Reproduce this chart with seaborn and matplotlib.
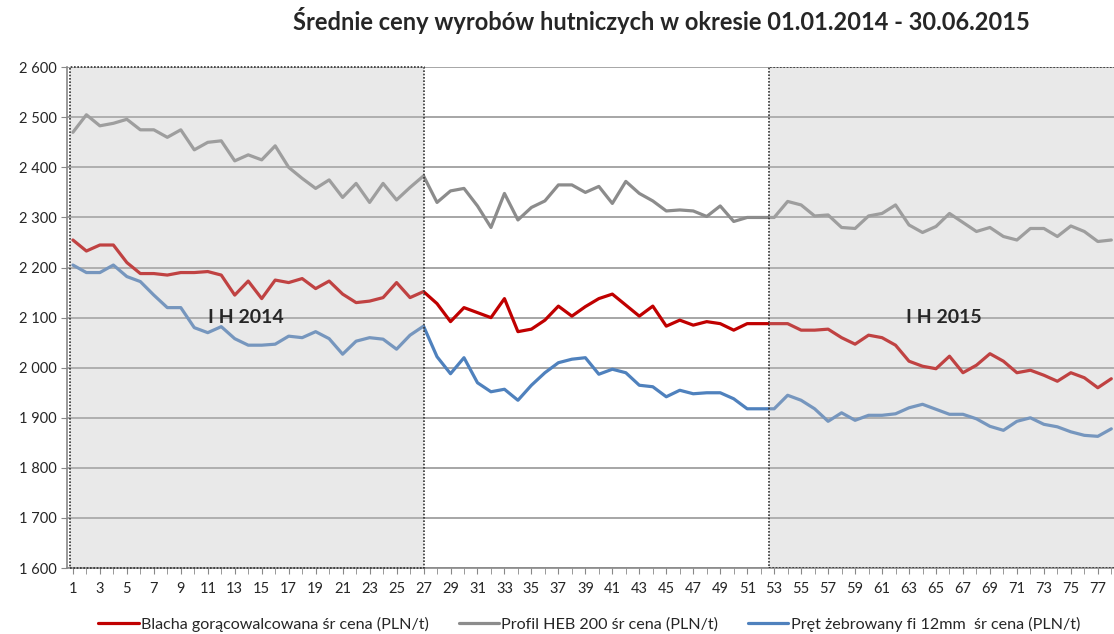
import numpy as np
import pandas as pd
import matplotlib
matplotlib.use("Agg")
import matplotlib.pyplot as plt
import matplotlib.ticker as mticker
import seaborn as sns

# weekly average prices (PLN/t), weeks 1..78
weeks = list(range(1, 79))

blacha = [2255, 2233, 2245, 2245, 2210, 2188, 2188, 2185, 2190, 2190,
          2192, 2185, 2145, 2173, 2138, 2175, 2170, 2178, 2158, 2173,
          2147, 2130, 2133, 2140, 2170, 2140, 2152, 2128, 2092, 2120,
          2110, 2100, 2138, 2072, 2077, 2095, 2123, 2103, 2122, 2138,
          2147, 2125, 2103, 2123, 2083, 2095, 2085, 2092, 2088, 2075,
          2088, 2088, 2088, 2088, 2075, 2075, 2077, 2060, 2047, 2065,
          2060, 2045, 2013, 2003, 1998, 2023, 1990, 2005, 2028, 2013,
          1990, 1995, 1985, 1973, 1990, 1980, 1960, 1978]

profil = [2470, 2505, 2483, 2488, 2496, 2475, 2475, 2460, 2475, 2435,
          2450, 2453, 2413, 2425, 2415, 2443, 2400, 2378, 2358, 2375,
          2340, 2368, 2330, 2368, 2335, 2360, 2383, 2330, 2353, 2358,
          2323, 2280, 2348, 2295, 2320, 2333, 2365, 2365, 2350, 2362,
          2328, 2372, 2348, 2333, 2313, 2315, 2313, 2302, 2323, 2292,
          2300, 2300, 2300, 2332, 2325, 2303, 2305, 2280, 2278, 2303,
          2308, 2325, 2285, 2270, 2282, 2308, 2290, 2272, 2280, 2262,
          2255, 2278, 2278, 2262, 2283, 2272, 2252, 2255]

pret = [2205, 2190, 2190, 2205, 2182, 2172, 2145, 2120, 2120, 2080,
        2070, 2082, 2058, 2045, 2045, 2047, 2063, 2060, 2072, 2058,
        2027, 2053, 2060, 2057, 2037, 2065, 2083, 2022, 1988, 2020,
        1970, 1952, 1957, 1935, 1965, 1990, 2010, 2017, 2020, 1987,
        1997, 1990, 1965, 1962, 1942, 1955, 1948, 1950, 1950, 1938,
        1918, 1918, 1918, 1945, 1935, 1918, 1893, 1910, 1895, 1905,
        1905, 1908, 1920, 1927, 1917, 1907, 1907, 1898, 1883, 1875,
        1893, 1900, 1887, 1882, 1872, 1865, 1863, 1878]

names = ["Blacha gorącowalcowana śr cena (PLN/t)",
         "Profil HEB 200 śr cena (PLN/t)",
         "Pręt żebrowany fi 12mm  śr cena (PLN/t)"]
colors = ["#c00000", "#8c8c8c", "#4f81bd"]

df = pd.DataFrame({
    "week": weeks * 3,
    "price": blacha + profil + pret,
    "series": [names[0]] * 78 + [names[1]] * 78 + [names[2]] * 78,
})

sns.set_style("white")
plt.rcParams["font.family"] = ["Lato", "DejaVu Sans"]

fig = plt.figure(figsize=(11.14, 6.34), dpi=100)
ax = fig.add_axes([0.060, 0.104, 0.940, 0.790])

sns.lineplot(data=df, x="week", y="price", hue="series", palette=colors,
             linewidth=2.3, ax=ax, zorder=3)

# half-year boxes (semi-transparent, drawn over the lines)
ax.axvspan(0.75, 27, ymin=0, ymax=1, facecolor="#c0c0c0", alpha=0.35,
           edgecolor="none", zorder=4)
ax.axvspan(52.6, 80, ymin=0, ymax=1, facecolor="#c0c0c0", alpha=0.35,
           edgecolor="none", zorder=4)
for x0, x1 in [(0.75, 27), (52.6, 80)]:
    ax.plot([x0, x1, x1, x0, x0], [1600, 1600, 2600, 2600, 1600],
            color="#333333", linestyle=(0, (1, 1)), linewidth=1.2, zorder=5,
            clip_on=False if x1 < 30 else True)

ax.text(13.8, 2100, "I H 2014", ha="center", va="center", fontsize=14,
        fontweight="bold", zorder=6)
ax.text(65.6, 2100, "I H 2015", ha="center", va="center", fontsize=14,
        fontweight="bold", zorder=6)

ax.set_xlim(0.55, 78.2)
ax.set_ylim(1600, 2600)
ax.set_yticks(range(1600, 2601, 100))
ax.yaxis.set_major_formatter(
    mticker.FuncFormatter(lambda v, p: f"{v:,.0f}".replace(",", " ")))
ax.set_xticks(range(1, 78, 2))
ax.set_xticks(range(1, 79), minor=True)
ax.grid(axis="y", color="#a6a6a6", linewidth=1.4, zorder=1)
ax.set_axisbelow(True)
ax.tick_params(axis="both", which="both", direction="out", length=4,
               color="#888888", labelsize=10.5, bottom=True, left=True)
ax.tick_params(axis="x", pad=6)
ax.set_xlabel("")
ax.set_ylabel("")
for s in ["top", "right"]:
    ax.spines[s].set_visible(False)
for s in ["left", "bottom"]:
    ax.spines[s].set_color("#888888")
    ax.spines[s].set_linewidth(1.2)

handles, labels = ax.get_legend_handles_labels()
ax.get_legend().remove()
fig.legend(handles, labels, loc="center", bbox_to_anchor=(0.529, 0.015),
           ncol=3, frameon=False, fontsize=11.6, handlelength=2.5,
           columnspacing=1.85, handletextpad=0.15)

fig.text(0.594, 0.968, "Średnie ceny wyrobów hutniczych w okresie 01.01.2014 - 30.06.2015",
         ha="center", va="center", fontsize=17, fontweight="bold")

fig.savefig("out.png", dpi=100)
